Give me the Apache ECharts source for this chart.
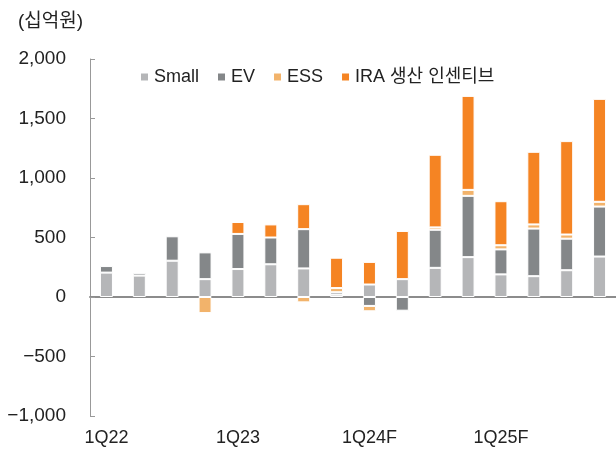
<!DOCTYPE html>
<html>
<head>
<meta charset="utf-8">
<script src="https://cdn.jsdelivr.net/npm/echarts@6/dist/echarts.min.js"></script>
<style>
  html, body { margin: 0; padding: 0; background: #fff; }
  #chart { width: 616px; height: 450px; }
</style>
</head>
<body>
<div id="chart"></div>
<script>
const quarters = ['1Q22', '2Q22', '3Q22', '4Q22', '1Q23', '2Q23', '3Q23', '4Q23',
  '1Q24F', '2Q24F', '3Q24F', '4Q24F', '1Q25F', '2Q25F', '3Q25F', '4Q25F']

// 십억원
const small = [205, 180, 305, 150, 235, 275, 240, 20, 105, 150, 245, 335, 190, 175, 225, 340]
const ev = [55, 20, 205, 225, 295, 225, 330, 20, -75, -115, 320, 515, 210, 400, 265, 420]
const ess = [null, null, null, -135, null, null, -45, 35, -45, null, 20, 50, 35, 35, 35, 40]
const ira = [null, null, null, null, 100, 110, 210, 255, 190, 405, 610, 790, 370, 610, 785, 865]

const FONT = "'Liberation Sans', 'Noto Sans CJK KR', sans-serif"

function fmt(v) {
  const s = Math.abs(v).toLocaleString('en-US')
  return v < 0 ? '\u2212' + s : s
}

function barSeries(name, data, color) {
  return {
    name,
    type: 'bar',
    stack: 'total',
    barWidth: 13,
    data,
    itemStyle: { color, borderColor: '#fff', borderWidth: 1 }
  }
}

const chart = echarts.init(document.getElementById('chart'))
chart.setOption({
  animation: false,
  textStyle: { fontFamily: FONT },
  title: {
    text: '(십억원)',
    left: 13,
    top: 7,
    textStyle: { fontFamily: FONT, fontSize: 19, fontWeight: 'normal', color: '#222' }
  },
  legend: {
    top: 63,
    left: 134,
    icon: 'rect',
    itemWidth: 9,
    itemHeight: 9,
    itemGap: 17,
    textStyle: { fontFamily: FONT, fontSize: 18, color: '#222' }
  },
  grid: { left: 90, right: 0, top: 59, bottom: 34 },
  xAxis: [
    {
      type: 'category',
      data: quarters,
      axisLine: { onZero: true, lineStyle: { color: '#8c8c8c', width: 2 } },
      axisTick: { inside: true, length: 5, lineStyle: { color: '#8c8c8c', width: 1.5 } },
      axisLabel: { show: false }
    },
    {
      type: 'category',
      data: quarters,
      position: 'bottom',
      axisLine: { show: false },
      axisTick: { show: false },
      axisLabel: { interval: 3, margin: 13, fontSize: 18, color: '#222', fontFamily: FONT }
    }
  ],
  yAxis: {
    type: 'value',
    min: -1000,
    max: 2000,
    interval: 500,
    axisLine: { show: true, lineStyle: { color: '#999', width: 1 } },
    axisTick: { show: true, inside: true, length: 5, lineStyle: { color: '#999' } },
    splitLine: { show: false },
    axisLabel: { fontSize: 19, color: '#222', margin: 24, fontFamily: FONT, formatter: fmt }
  },
  series: [
    barSeries('Small', small, '#b5b6b8'),
    barSeries('EV', ev, '#848789'),
    barSeries('ESS', ess, '#f2b36b'),
    barSeries('IRA 생산 인센티브', ira, '#f58423')
  ]
})
</script>
</body>
</html>
